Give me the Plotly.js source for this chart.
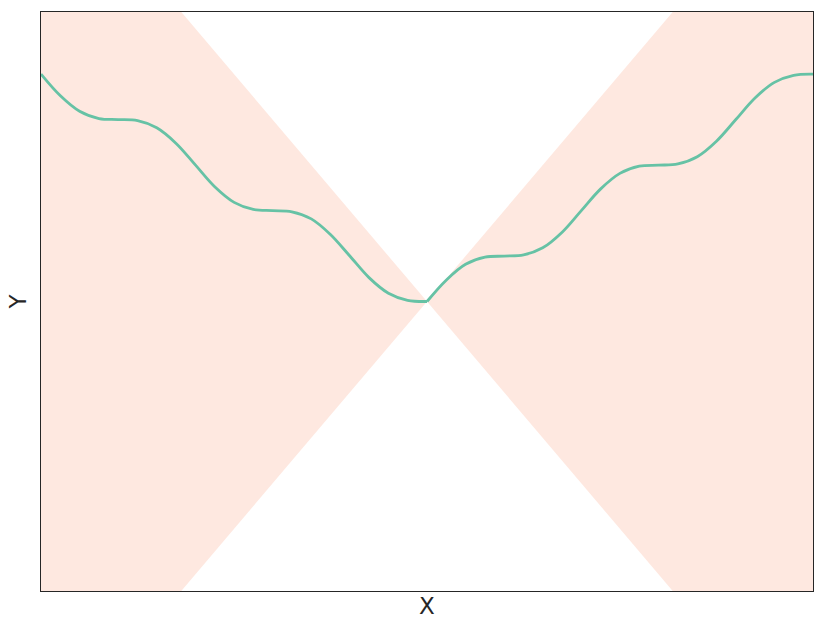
<!DOCTYPE html>
<html>
<head>
<meta charset="utf-8">
<script src="https://cdn.plot.ly/plotly-3.0.1.min.js"></script>
<style>
  html, body { margin: 0; padding: 0; background: #fff; }
  #chart { width: 830px; height: 623px; }
</style>
</head>
<body>
<div id="chart"></div>
<script>
// curve (left half and right half meet at the kink at 0)
let xLeft = [-15.71, -14.92, -14.14, -13.35, -12.57, -11.78, -11.0, -10.21, -9.42, -8.64,
             -7.85, -7.07, -6.28, -5.50, -4.71, -3.93, -3.14, -2.36, -1.57, -0.79, 0];
let yLeft = [15.71, 14.21, 13.14, 12.64, 12.57, 12.49, 12.0, 10.92, 9.42, 7.93,
             6.85, 6.36, 6.28, 6.20, 5.71, 4.63, 3.14, 1.65, 0.57, 0.08, 0];
let xRight = [0, 0.79, 1.57, 2.36, 3.14, 3.93, 4.71, 5.50, 6.28, 7.07,
              7.85, 8.64, 9.42, 10.21, 11.0, 11.78, 12.57, 13.35, 14.14, 14.92, 15.71];
let yRight = [0, 1.49, 2.57, 3.06, 3.14, 3.22, 3.71, 4.79, 6.28, 7.78,
              8.85, 9.35, 9.42, 9.50, 10.0, 11.07, 12.57, 14.06, 15.14, 15.63, 15.71];

// shaded cone |y| <= 2|x|
let coneX = [-15.71, 0, 15.71];
let coneUpper = [31.42, 0, 31.42];
let coneLower = [-31.42, 0, -31.42];

let lineColor = '#66c2a5';
let fillColor = 'rgba(252,141,98,0.2)';

var data = [
    { x: coneX, y: coneLower, mode: 'lines', line: { width: 0 }, hoverinfo: 'skip' },
    { x: coneX, y: coneUpper, mode: 'lines', line: { width: 0 }, fill: 'tonexty', fillcolor: fillColor, hoverinfo: 'skip' },
    { x: xLeft, y: yLeft, mode: 'lines', line: { color: lineColor, width: 2.8, shape: 'spline' } },
    { x: xRight, y: yRight, mode: 'lines', line: { color: lineColor, width: 2.8, shape: 'spline' } }
];

var axisBase = {
    showgrid: false,
    zeroline: false,
    showticklabels: false,
    ticks: '',
    showline: true,
    mirror: true,
    linecolor: '#262626',
    linewidth: 1.25
};

var layout = {
    width: 830,
    height: 623,
    margin: { l: 41, r: 17, t: 12, b: 32 },
    paper_bgcolor: '#ffffff',
    plot_bgcolor: '#ffffff',
    showlegend: false,
    font: { family: 'DejaVu Sans', color: '#262626' },
    xaxis: Object.assign({}, axisBase, {
        range: [-15.71, 15.71],
        title: { text: 'X', font: { size: 23 }, standoff: 6 }
    }),
    yaxis: Object.assign({}, axisBase, {
        range: [-20, 20],
        title: { text: 'Y', font: { size: 23 }, standoff: 6 }
    })
};

Plotly.newPlot('chart', data, layout, { displayModeBar: false, staticPlot: true });
</script>
</body>
</html>
